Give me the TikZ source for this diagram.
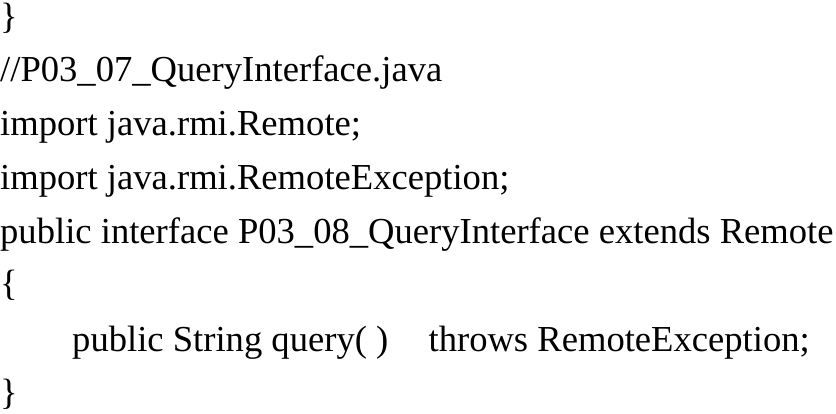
\documentclass[tikz,border=0pt]{standalone}
\usepackage{fontspec}
\setmainfont{Liberation Serif}
\begin{document}
\begin{tikzpicture}[x=1pt,y=-1pt,
  code/.style={anchor=base west,inner sep=0pt,font=\fontsize{36.6}{40}\selectfont}]
\useasboundingbox[fill=white] (0,0) rectangle (836,414);
\node[code] (l1) at (0,28.5) {\}};
\node[code] (l2) at (0,82) {//P03\_07\_QueryInterface.java};
\node[code] (l3) at (0,136) {import java.rmi.Remote;};
\node[code] (l4) at (0,190) {import java.rmi.RemoteException;};
\node[code] (l5) at (0,244) {public interface P03\_08\_QueryInterface extends Remote};
\node[code] (l6) at (0,296) {\{};
\node[code] (l7) at (72,352) {public String query( )\hspace{1.1em}throws RemoteException;};
\node[code] (l8) at (0,404) {\}};
\end{tikzpicture}
\end{document}
